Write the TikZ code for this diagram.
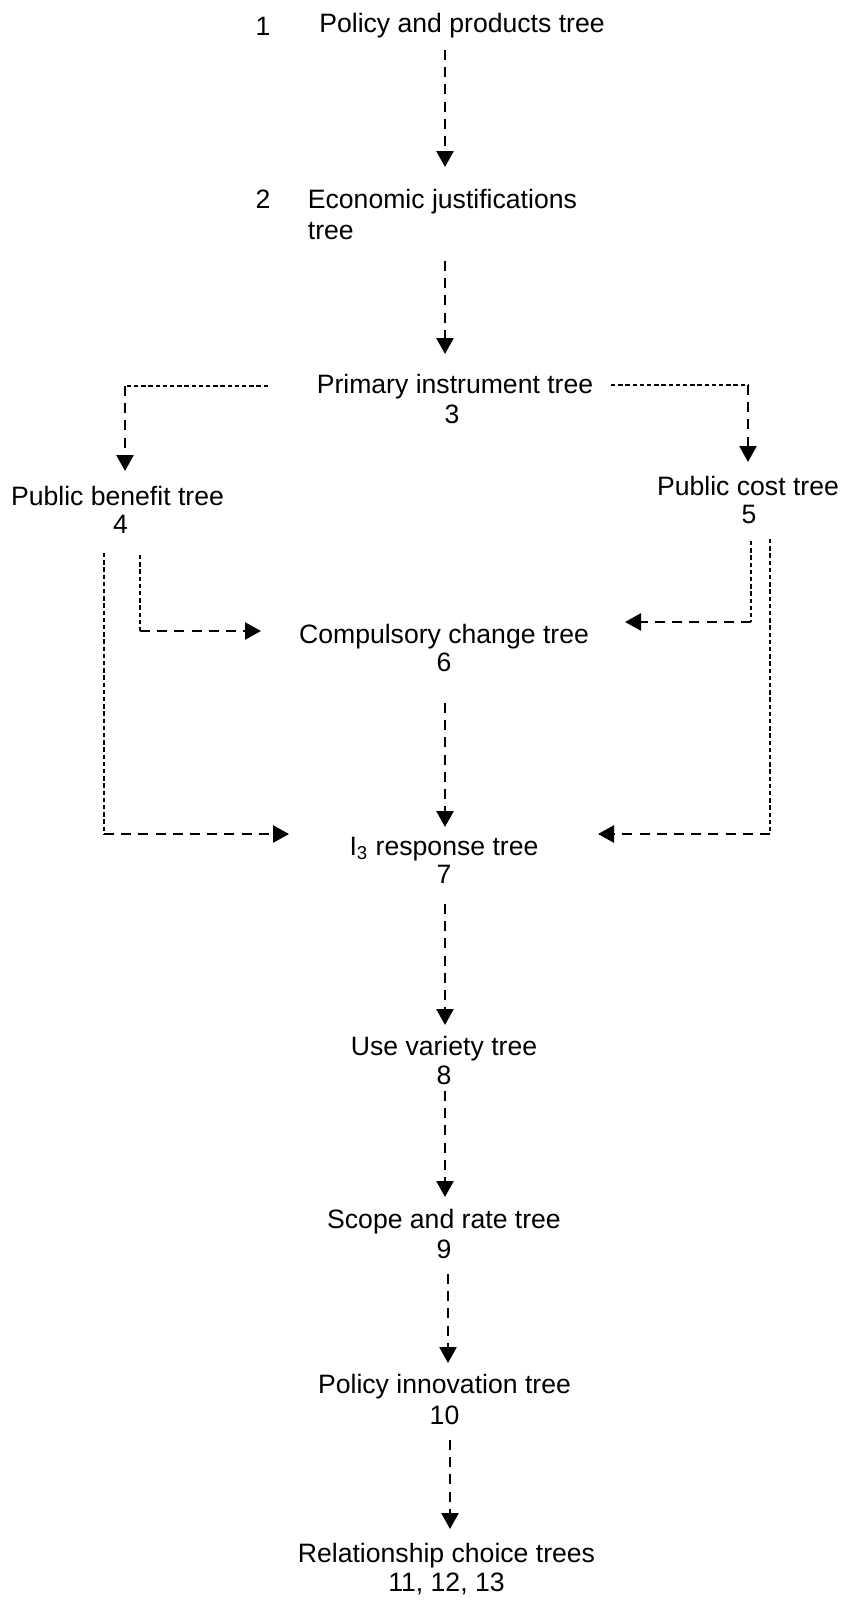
\documentclass[tikz,border=0pt]{standalone}
\usepackage{fontspec}
\setmainfont{Liberation Sans}
\usetikzlibrary{arrows.meta}
\begin{document}
\begin{tikzpicture}[x=0.5bp,y=-0.5bp,
  lbl/.style={inner sep=0pt, anchor=base, font=\fontsize{13.3bp}{16bp}\selectfont},
  lblw/.style={lbl, anchor=base west},
  flow/.style={line width=1.3bp, dash pattern=on 5bp off 3.6bp, -{Triangle[width=8.5bp,length=8bp]}},
  feed/.style={line width=0.55bp, dash pattern=on 2.2bp off 1.4bp}]
\useasboundingbox (0,0) rectangle (846,1603);

% tree labels
\node[lbl] (t1num) at (263,35) {1};
\node[lbl] (t1) at (462,32) {Policy and products tree};
\node[lbl] (t2num) at (263,208.5) {2};
\node[lblw] (t2a) at (307.5,208.5) {Economic justifications};
\node[lblw] (t2b) at (307.5,239.5) {tree};
\node[lbl] (t3) at (455,393.5) {Primary instrument tree};
\node[lbl] (t3num) at (452,423) {3};
\node[lbl] (t4) at (117.5,505) {Public benefit tree};
\node[lbl] (t4num) at (120.5,533.5) {4};
\node[lbl] (t5) at (748,495.5) {Public cost tree};
\node[lbl] (t5num) at (749,523.5) {5};
\node[lbl] (t6) at (444,643) {Compulsory change tree};
\node[lbl] (t6num) at (444,671.5) {6};
\node[lbl] (t7) at (444,855.5) {I\textsubscript{3} response tree};
\node[lbl] (t7num) at (444,883) {7};
\node[lbl] (t8) at (444,1055.5) {Use variety tree};
\node[lbl] (t8num) at (444,1084.5) {8};
\node[lbl] (t9) at (444,1228.5) {Scope and rate tree};
\node[lbl] (t9num) at (444,1258) {9};
\node[lbl] (t10) at (444.5,1393.5) {Policy innovation tree};
\node[lbl] (t10num) at (444.5,1424.5) {10};
\node[lbl] (t11) at (446.5,1562.5) {Relationship choice trees};
\node[lbl] (t11num) at (446.5,1591) {11, 12, 13};

% connector end points
\coordinate (a12s) at (445,50);      \coordinate (a12e) at (445,167);
\coordinate (a23s) at (445,261);     \coordinate (a23e) at (445,354);
\coordinate (b34s) at (268,386);     \coordinate (b34c) at (125,386);  \coordinate (b34e) at (125,471);
\coordinate (b35s) at (611,385);     \coordinate (b35c) at (748,385);  \coordinate (b35e) at (748,462);
\coordinate (b46s) at (140,555);     \coordinate (b46c) at (140,631);  \coordinate (b46e) at (261,631);
\coordinate (b47s) at (104,553);     \coordinate (b47c) at (104,834);  \coordinate (b47e) at (289,834);
\coordinate (b56s) at (751,541);     \coordinate (b56c) at (751,622);  \coordinate (b56e) at (625,622);
\coordinate (b57s) at (770,539);     \coordinate (b57c) at (770,834);  \coordinate (b57e) at (598,834);
\coordinate (a67s) at (445,703);     \coordinate (a67e) at (445,827);
\coordinate (a78s) at (445,904);     \coordinate (a78e) at (445,1025);
\coordinate (a89s) at (445,1091);    \coordinate (a89e) at (445,1197);
\coordinate (a910s) at (448,1274);   \coordinate (a910e) at (448,1363);
\coordinate (a1011s) at (450,1440);  \coordinate (a1011e) at (450,1529);

% main chain
\draw[flow] (a12s) -- (a12e);
\draw[flow] (a23s) -- (a23e);
\draw[flow] (a67s) -- (a67e);
\draw[flow] (a78s) -- (a78e);
\draw[flow] (a89s) -- (a89e);
\draw[flow] (a910s) -- (a910e);
\draw[flow] (a1011s) -- (a1011e);

% branches from the primary instrument tree
\draw[feed] (b34s) -- (b34c);
\draw[flow] (b34c) -- (b34e);
\draw[feed] (b35s) -- (b35c);
\draw[flow] (b35c) -- (b35e);

% public benefit feeds
\draw[feed] (b46s) -- (b46c);
\draw[flow] (b46c) -- (b46e);
\draw[feed] (b47s) -- (b47c);
\draw[flow] (b47c) -- (b47e);

% public cost feeds
\draw[feed] (b56s) -- (b56c);
\draw[flow] (b56c) -- (b56e);
\draw[feed] (b57s) -- (b57c);
\draw[flow] (b57c) -- (b57e);
\end{tikzpicture}
\end{document}
